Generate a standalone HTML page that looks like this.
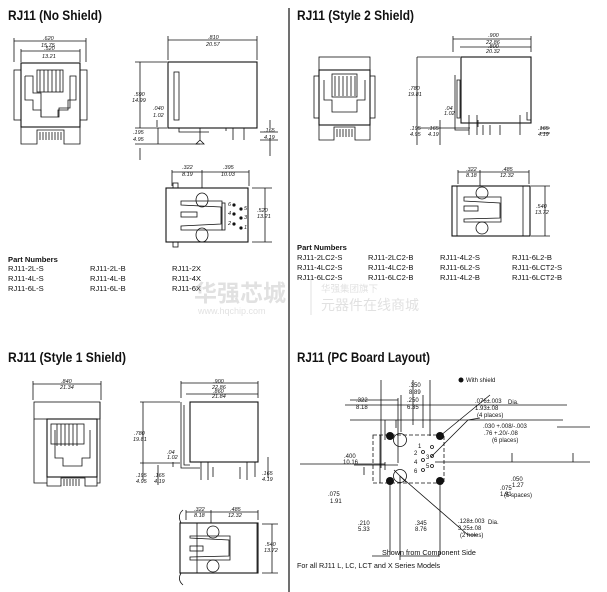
<!DOCTYPE html>
<html><head><meta charset="utf-8"><style>
html,body{margin:0;padding:0;background:#fff}
svg{display:block}
text{font-family:"Liberation Sans",Arial,sans-serif;fill:#111}
.t{font-weight:bold;font-size:13.5px}
.p{font-size:7.6px}
.d{font-size:5.5px;font-style:italic}
.s{font-size:6px}
</style></head><body>
<svg width="607" height="592" viewBox="0 0 607 592" xmlns="http://www.w3.org/2000/svg">
<g stroke="#111" fill="none" stroke-width="0.8">
<line x1="289" y1="8" x2="289" y2="592" stroke-width="1.2"/>

<!-- Q1 front -->
<rect x="21" y="63" width="59" height="64" stroke-width="1.1"/>
<rect x="14" y="70" width="7" height="50"/><rect x="80" y="70" width="7" height="50"/>
<path d="M25 76 H33 V93 H41 V117 H59 V108 H70 V93 V76 H76 V100 H68 V110 H58 V117" />
<path d="M25 76 V100 H33 V110 H41 V117"/>
<rect x="37" y="70" width="26" height="22"/>
<path d="M40 70v22M44 70v22M48 70v22M52 70v22M56 70v22M60 70v22"/>
<path d="M21 127 V144 H37 V130 H64 V144 H80 V127"/>
<path d="M40 132v8M43 132v8M46 132v8M49 132v8M52 132v8M55 132v8M58 132v8M61 132v8"/>
<path d="M14 38V62M86 38V62M14 41H86M21 51H80M21 49V62M80 49V62"/>
<!-- Q1 side -->
<rect x="168" y="62" width="89" height="66" stroke-width="1.1"/>
<rect x="174" y="72" width="5" height="48"/>
<path d="M179 128v4h30M200 128v12l-4 4h8l-4-4M233 128v12M244 128v12M226 128v3"/>
<path d="M168 36V60M257 36V60M168 40H257"/>
<path d="M135 62H167M140 62V128M135 128H167M158 128V144M135 144H200M140 148V160M157 120V127M270 120V128M270 138V156M260 132H278M260 140H278"/>
<!-- Q1 bottom -->
<rect x="166" y="188" width="82" height="54" stroke-width="1.1"/>
<rect x="173" y="183" width="5" height="5"/><rect x="173" y="242" width="5" height="5"/>
<ellipse cx="202" cy="200" rx="6" ry="7"/><ellipse cx="202" cy="235" rx="6" ry="7"/>
<path d="M181 201H222V230H181V226L221 224V207L181 205Z"/>
<rect x="181" y="212" width="16" height="5"/>
<rect x="222" y="203" width="3" height="27"/>
<path d="M172 170V186M202 170V188M249 170V186M172 172H249M252 188H272M252 242H272M265 188V242"/>
<g fill="#111"><circle cx="234" cy="205" r="1.2"/><circle cx="234" cy="214" r="1.2"/><circle cx="234" cy="224" r="1.2"/><circle cx="241" cy="209" r="1.2"/><circle cx="241" cy="218" r="1.2"/><circle cx="241" cy="228" r="1.2"/></g>

<!-- Q2 front -->
<rect x="319" y="57" width="51" height="13"/>
<rect x="319" y="70" width="51" height="55" stroke-width="1.1"/>
<rect x="314" y="76" width="5" height="42"/><rect x="370" y="76" width="5" height="42"/>
<rect x="332" y="74" width="25" height="23"/>
<path d="M335 76v20M339 76v20M343 76v20M347 76v20M351 76v20M355 76v20"/>
<path d="M324 80V100H332V112H357V100H365V80"/>
<path d="M319 125V140H334V127H355V140H370V125"/>
<path d="M337 129v8M340 129v8M343 129v8M346 129v8M349 129v8M352 129v8"/>
<!-- Q2 side -->
<rect x="461" y="57" width="70" height="66" stroke-width="1.1"/>
<path d="M455 75V130H469M457 80V118H460V80Z M531 57V120H527V112M469 115V135M477 115V135M483 125v10M490 125v10M500 125v10M520 115v20"/>
<path d="M453 36V52M531 36V52M453 39H531M460 47H531M417 57H460M417 57V145M417 128H470M440 120V145M478 120V127M540 128H550M540 133H550"/>
<!-- Q2 bottom -->
<rect x="452" y="186" width="78" height="50" stroke-width="1.1"/>
<rect x="457" y="186" width="66" height="50"/>
<ellipse cx="482" cy="193" rx="6" ry="6"/><ellipse cx="482" cy="228" rx="6" ry="6"/>
<path d="M464 197H501V222H464V219L500 218V203L464 201Z"/>
<rect x="464" y="206" width="14" height="5"/>
<path d="M458 170V184M480 170V186M529 170V184M458 172H529M531 186H550M531 236H550M545 186V236"/>

<!-- Q3 front -->
<rect x="34" y="402" width="66" height="17"/>
<rect x="47" y="419" width="50" height="58" stroke-width="1.1"/>
<path d="M34 419V483H47M100 402V483H97"/>
<rect x="51" y="424" width="33" height="20"/>
<path d="M57 424v22M61 424v22M65 424v22M69 424v22M73 424v22M77 424v22"/>
<path d="M55 430V458H63V466H82V458H90V430"/>
<path d="M47 477V486H61V478H85V486H97V477"/>
<path d="M64 479v7M67 479v7M70 479v7M73 479v7M76 479v7M79 479v7"/>
<path d="M33 381V400M101 381V400M33 384H101"/>
<!-- Q3 side -->
<rect x="190" y="402" width="68" height="60" stroke-width="1.1"/>
<path d="M181 402V468H200M184 405V465H190M201 462V480M208 462V480M213 467v10M240 467v12M247 462v18M255 462v15"/>
<path d="M181 381V398M258 381V398M181 383H258M186 394H258M140 402H180M143 402V480M140 463H180M158 465V485M173 462V467M268 457V478"/>
<!-- Q3 bottom -->
<rect x="180" y="523" width="78" height="50" stroke-width="1.1"/>
<rect x="197" y="523" width="60" height="50"/>
<ellipse cx="213" cy="532" rx="6" ry="6"/><ellipse cx="213" cy="566" rx="6" ry="6"/>
<path d="M190 536H230V560H190V557L229 556V540L190 538Z"/>
<rect x="190" y="546" width="13" height="5"/>
<path d="M186 510V520M211 510V523M258 510V520M186 512H258M262 524H278M262 573H278M272 524V573M181 523Q177 515 183 510M181 573Q177 580 183 585"/>

<!-- Q4 board -->
<rect x="373" y="435" width="71" height="48" stroke-dasharray="4,2"/>
<path d="M380 435V483M398 398V463M401 395V432M423 395V428M413 380V425M430 380V436M381 380V468" />
<path d="M350 400H398M354 465H398M350 420H563M396 420V428"/>
<path d="M345 405H567M385 420V440M557 427H590"/>
<path d="M300 464H385M364 467V475M385 462V470"/>
<path d="M390 481V555M400 476V560M440 481V555M400 556H440M390 556H372"/>
<path d="M440 436L490 395M431 457L468 420L480 418M400 476L468 535L478 535"/>
<path d="M435 462H590M573 453V462M512 453V462"/>
<circle cx="400" cy="440" r="6.5"/><circle cx="400" cy="476" r="6.5"/>
<path d="M394 470L406 482"/>
<g fill="#111" stroke="none"><circle cx="390" cy="436" r="4"/><circle cx="440" cy="436" r="4"/><circle cx="390" cy="481" r="4"/><circle cx="440" cy="481" r="4"/><circle cx="461" cy="380" r="2.5"/></g>
<circle cx="432" cy="447" r="1.5"/><circle cx="423" cy="452" r="1.5"/><circle cx="432" cy="456" r="1.5"/><circle cx="423" cy="460" r="1.5"/><circle cx="432" cy="466" r="1.5"/><circle cx="423" cy="470" r="1.5"/>
</g>

<!-- titles -->
<text x="8" y="20" class="t" textLength="94" lengthAdjust="spacingAndGlyphs">RJ11 (No Shield)</text>
<text x="297" y="20" class="t" textLength="117" lengthAdjust="spacingAndGlyphs">RJ11 (Style 2 Shield)</text>
<text x="8" y="362" class="t" textLength="118" lengthAdjust="spacingAndGlyphs">RJ11 (Style 1 Shield)</text>
<text x="297" y="362" class="t" textLength="133" lengthAdjust="spacingAndGlyphs">RJ11 (PC Board Layout)</text>

<!-- dims Q1 -->
<g class="d"><text x="43" y="40">.620</text><text x="41" y="47">15.75</text><text x="44" y="50">.520</text><text x="42" y="58">13.21</text>
<text x="208" y="39">.810</text><text x="206" y="46">20.57</text>
<text x="134" y="96">.590</text><text x="132" y="102">14.99</text><text x="153" y="110">.040</text><text x="153" y="117">1.02</text>
<text x="133" y="134">.195</text><text x="133" y="141">4.95</text><text x="264" y="132">.165</text><text x="264" y="139">4.19</text>
<text x="182" y="169">.322</text><text x="182" y="176">8.19</text><text x="223" y="169">.395</text><text x="221" y="176">10.03</text>
<text x="257" y="212">.520</text><text x="257" y="218">13.21</text>
<text x="228" y="206">6</text><text x="228" y="215">4</text><text x="228" y="225">2</text><text x="244" y="210">5</text><text x="244" y="219">3</text><text x="244" y="229">1</text></g>
<!-- Q2 dims -->
<g class="d"><text x="488" y="37">.900</text><text x="486" y="44">22.86</text><text x="488" y="48">.800</text><text x="486" y="53">20.32</text>
<text x="409" y="90">.780</text><text x="408" y="96">19.81</text><text x="445" y="110">.04</text><text x="444" y="115">1.02</text>
<text x="410" y="130">.195</text><text x="410" y="136">4.95</text><text x="428" y="130">.165</text><text x="428" y="136">4.19</text>
<text x="538" y="130">.165</text><text x="538" y="136">4.19</text>
<text x="466" y="171">.322</text><text x="466" y="177">8.18</text><text x="502" y="171">.485</text><text x="500" y="177">12.32</text>
<text x="536" y="208">.540</text><text x="535" y="214">13.72</text></g>
<!-- Q3 dims -->
<g class="d"><text x="61" y="383">.840</text><text x="60" y="389">21.34</text><text x="213" y="383">.900</text><text x="212" y="389">22.86</text><text x="213" y="393">.860</text><text x="212" y="398">21.84</text>
<text x="134" y="435">.780</text><text x="133" y="441">19.81</text><text x="167" y="454">.04</text><text x="167" y="459">1.02</text>
<text x="136" y="477">.195</text><text x="136" y="483">4.95</text><text x="154" y="477">.165</text><text x="154" y="483">4.19</text><text x="262" y="475">.165</text><text x="262" y="481">4.19</text>
<text x="194" y="511">.322</text><text x="194" y="517">8.18</text><text x="230" y="511">.485</text><text x="228" y="517">12.32</text>
<text x="265" y="546">.540</text><text x="264" y="552">13.72</text></g>
<!-- Q4 dims -->
<g class="s"><text x="466" y="382">With shield</text>
<text x="409" y="387">.350</text><text x="409" y="394">8.89</text><text x="356" y="402">.322</text><text x="356" y="409">8.18</text><text x="407" y="402">.250</text><text x="407" y="409">6.35</text>
<text x="475" y="403">.076±.003</text><text x="508" y="404">Dia.</text><text x="475" y="410">1.93±.08</text><text x="477" y="417">(4 places)</text>
<text x="483" y="428">.030 +.008/-.003</text><text x="484" y="435">.76 +.20/-.08</text><text x="492" y="442">(6 places)</text>
<text x="344" y="458">.400</text><text x="343" y="464">10.16</text>
<text x="418" y="448">1</text><text x="414" y="455">2</text><text x="426" y="459">3</text><text x="414" y="464">4</text><text x="426" y="468">5</text><text x="414" y="473">6</text>
<text x="500" y="490">.075</text><text x="500" y="496">1.91</text><text x="511" y="481">.050</text><text x="512" y="487">1.27</text><text x="503" y="496" style="display:none"></text><text x="504" y="497">(5 spaces)</text>
<text x="328" y="496">.075</text><text x="330" y="503">1.91</text>
<text x="358" y="525">.210</text><text x="358" y="531">5.33</text><text x="415" y="525">.345</text><text x="415" y="531">8.76</text>
<text x="458" y="523">.128±.003</text><text x="488" y="524">Dia.</text><text x="458" y="530">3.25±.08</text><text x="460" y="537">(2 holes)</text></g>
<text x="382" y="555" style="font-size:7.2px">Shown from Component Side</text>
<text x="297" y="568" style="font-size:7.2px">For all RJ11 L, LC, LCT and X Series Models</text>

<!-- parts -->
<text x="8" y="262" class="p" font-weight="bold">Part Numbers</text>
<g class="p"><text x="8" y="271">RJ11-2L-S</text><text x="8" y="281">RJ11-4L-S</text><text x="8" y="291">RJ11-6L-S</text>
<text x="90" y="271">RJ11-2L-B</text><text x="90" y="281">RJ11-4L-B</text><text x="90" y="291">RJ11-6L-B</text>
<text x="172" y="271">RJ11-2X</text><text x="172" y="281">RJ11-4X</text><text x="172" y="291">RJ11-6X</text></g>
<text x="297" y="250" class="p" font-weight="bold">Part Numbers</text>
<g class="p"><text x="297" y="260">RJ11-2LC2-S</text><text x="297" y="270">RJ11-4LC2-S</text><text x="297" y="280">RJ11-6LC2-S</text>
<text x="368" y="260">RJ11-2LC2-B</text><text x="368" y="270">RJ11-4LC2-B</text><text x="368" y="280">RJ11-6LC2-B</text>
<text x="440" y="260">RJ11-4L2-S</text><text x="440" y="270">RJ11-6L2-S</text><text x="440" y="280">RJ11-4L2-B</text>
<text x="512" y="260">RJ11-6L2-B</text><text x="512" y="270">RJ11-6LCT2-S</text><text x="512" y="280">RJ11-6LCT2-B</text></g>

<!-- watermark -->
<g opacity="0.35">
<text x="194" y="301" style="font-family:'Liberation Sans','Noto Sans CJK SC',sans-serif;font-size:23px;font-weight:bold;fill:#aaa">华强芯城</text>
<text x="198" y="314" style="font-size:9px;fill:#aaa">www.hqchip.com</text>
<line x1="311" y1="280" x2="311" y2="315" stroke="#aaa"/>
<text x="321" y="292" style="font-family:'Liberation Sans','Noto Sans CJK SC',sans-serif;font-size:9.5px;fill:#aaa">华强集团旗下</text>
<text x="321" y="310" style="font-family:'Liberation Sans','Noto Sans CJK SC',sans-serif;font-size:14px;fill:#aaa">元器件在线商城</text>
</g>
</svg>
</body></html>
